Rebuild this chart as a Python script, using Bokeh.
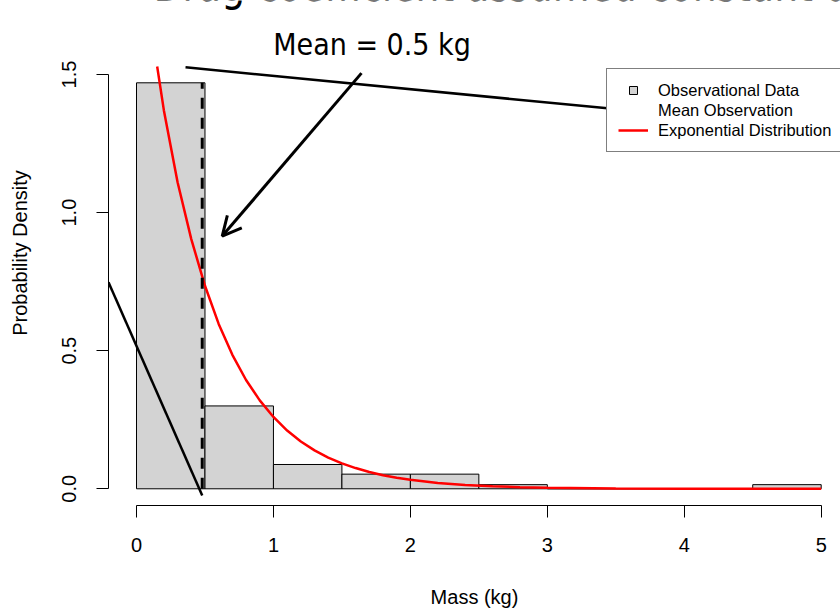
from bokeh.plotting import figure
from bokeh.models import Range1d, Legend, LegendItem, Arrow, OpenHead, Label, FixedTicker
from bokeh.embed import file_html
from bokeh.resources import INLINE

# ---- data ----
bin_left = [0.0, 0.5, 1.0, 1.5, 2.0, 2.5, 3.0, 3.5, 4.0, 4.5]
bin_right = [0.5, 1.0, 1.5, 2.0, 2.5, 3.0, 3.5, 4.0, 4.5, 5.0]
density = [1.47, 0.30, 0.088, 0.053, 0.053, 0.015, 0.0, 0.0, 0.0, 0.015]

mean_mass = [0.48, 0.48]
mean_line_y = [0.0, 1.47]

# exponential density curve as drawn (visible part, starting where it leaves the plot top)
curve_x = [0.151, 0.2, 0.3, 0.4, 0.5, 0.6, 0.7, 0.8, 0.9, 1.0, 1.1, 1.2, 1.3, 1.4,
           1.5, 1.6, 1.7, 1.8, 1.9, 2.0, 2.2, 2.4, 2.6, 2.8, 3.0, 3.5, 4.0, 4.5, 5.0]
curve_y = [1.529, 1.37, 1.11, 0.904, 0.735, 0.597, 0.485, 0.394, 0.320, 0.260,
           0.211, 0.171, 0.139, 0.113, 0.092, 0.075, 0.061, 0.049, 0.040, 0.033,
           0.021, 0.014, 0.009, 0.006, 0.004, 0.001, 0.0005, 0.0, 0.0]

x_ticks = [0, 1, 2, 3, 4, 5]
y_ticks = [0.0, 0.5, 1.0, 1.5]
y_tick_labels = ["0.0", "0.5", "1.0", "1.5"]

# annotation lines (as drawn in the reference)
stray1_x = [0.358, 3.554]
stray1_y = [1.526, 1.372]
stray2_x = [-0.2045, 0.48]
stray2_y = [0.748, -0.024]
arrow_start = (1.643, 1.505)
arrow_end = (0.626, 0.915)
mean_text = "Mean = 0.5 kg"
mean_text_pos = (1.72, 1.609)
title_text = "Drag coefficient assumed constant d"
title_pos = (0.124, 1.82)

p = figure(width=840, height=610, output_backend="svg", toolbar_location=None,
           title=None,
           x_range=Range1d(-0.2045, 5.141), y_range=Range1d(-0.0605, 1.768),
           min_border_left=108, min_border_right=0, min_border_top=0,
           min_border_bottom=105)
p.outline_line_color = None
p.xgrid.visible = False
p.ygrid.visible = False
p.background_fill_color = "white"
p.border_fill_color = "white"

# histogram
p.quad(left=bin_left, right=bin_right, bottom=0, top=density,
       fill_color="#D3D3D3", line_color="black", line_width=1)

# exponential curve
curve = p.line(curve_x, curve_y, line_color="red", line_width=2.5)

# mean line
p.line(mean_mass, mean_line_y, line_color="black", line_width=3, line_dash="11 9")

# stray lines
p.line(stray1_x, stray1_y, line_color="black", line_width=2.5, level="overlay")
p.line(stray2_x, stray2_y, line_color="black", line_width=2.5)

# arrow
p.add_layout(Arrow(end=OpenHead(size=19, line_width=3, line_color="black"),
                   x_start=arrow_start[0], y_start=arrow_start[1],
                   x_end=arrow_end[0], y_end=arrow_end[1],
                   line_width=3, line_color="black"))

p.add_layout(Label(x=mean_text_pos[0], y=mean_text_pos[1], text=mean_text,
                   text_align="center", text_baseline="alphabetic",
                   text_font="DejaVu Sans Condensed", text_font_size="30px",
                   text_color="black"))
p.add_layout(Label(x=title_pos[0], y=title_pos[1], text=title_text,
                   text_align="left", text_baseline="alphabetic",
                   text_font="DejaVu Sans Condensed", text_font_size="42px",
                   text_color="black"))

# legend (legend-key proxies placed outside the visible range)
sq = p.scatter(x=[-9], y=[-9], marker="square", fill_color="#D3D3D3",
               line_color="black", line_width=1)
blank = p.line(x=[-9, -8], y=[-9, -9], line_alpha=0)
legend = Legend(items=[LegendItem(label="Observational Data", renderers=[sq]),
                       LegendItem(label="Mean Observation", renderers=[blank]),
                       LegendItem(label="Exponential Distribution", renderers=[curve])],
                location=(498, 353), glyph_width=30, glyph_height=20, spacing=0,
                padding=11, margin=0, label_standoff=10, label_height=20,
                border_line_color="black", border_line_width=1,
                background_fill_color="white", background_fill_alpha=1.0,
                label_text_font="Liberation Sans", label_text_font_size="16.5px",
                label_text_color="black")
p.add_layout(legend)

# axes
for ax in (p.xaxis[0], p.yaxis[0]):
    ax.axis_line_color = "black"
    ax.axis_line_width = 1
    ax.major_tick_line_color = "black"
    ax.major_tick_out = 12
    ax.major_tick_in = 0
    ax.minor_tick_line_color = None
    ax.major_label_text_font = "Liberation Sans"
    ax.major_label_text_font_size = "20px"
    ax.major_label_text_color = "black"
    ax.axis_label_text_font = "Liberation Sans"
    ax.axis_label_text_font_size = "20px"
    ax.axis_label_text_font_style = "normal"
    ax.axis_label_text_color = "black"

xa = p.xaxis[0]
xa.ticker = FixedTicker(ticks=x_ticks)
xa.bounds = (0, 5)
xa.axis_label = "Mass (kg)"
xa.major_label_standoff = 20
xa.axis_label_standoff = 31

ya = p.yaxis[0]
ya.ticker = FixedTicker(ticks=y_ticks)
ya.major_label_overrides = {t: s for t, s in zip(y_ticks, y_tick_labels)}
ya.bounds = (0, 1.5)
ya.axis_label = "Probability Density"
ya.major_label_orientation = "vertical"
ya.major_label_standoff = 20
ya.axis_label_standoff = 29

open("out.html", "w").write(file_html(p, INLINE))
